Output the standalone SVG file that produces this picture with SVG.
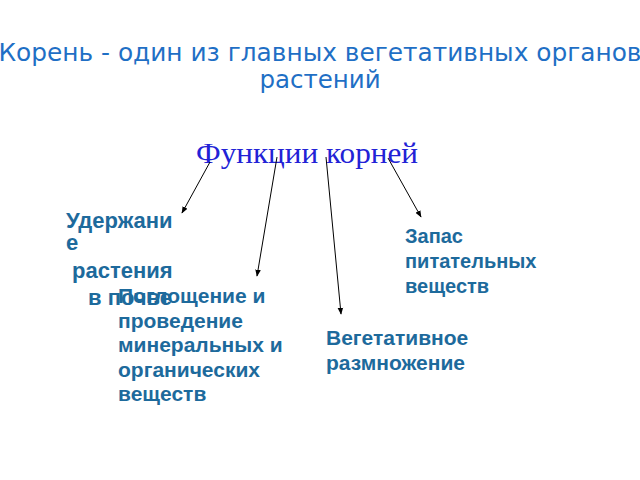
<svg xmlns="http://www.w3.org/2000/svg" width="640" height="480" viewBox="0 0 640 480">
<defs>
<marker id="ah" viewBox="0 0 10 10" refX="9" refY="5" markerWidth="7" markerHeight="7" orient="auto" markerUnits="userSpaceOnUse">
<path d="M0,1 L10,5 L0,9 z" fill="#000"/>
</marker>
<style>
.title{font-family:"DejaVu Sans",sans-serif;font-size:24.5px;fill:#1f6fc5;text-anchor:middle}
.head{font-family:"Liberation Serif",serif;font-size:29px;fill:#2222d6;text-anchor:middle}
.lbl{font-family:"Liberation Sans",Arial,sans-serif;font-weight:bold;fill:#1d6a9c}
.s22{font-size:22px}
.s21{font-size:21px}
.s20{font-size:20px}
.con{stroke:#000;stroke-width:1;fill:none;marker-end:url(#ah)}
</style>
</defs>
<rect width="640" height="480" fill="#fff"/>
<g id="title">
<text class="title" x="320" y="61" textLength="643" lengthAdjust="spacingAndGlyphs">Корень - один из главных вегетативных органов</text>
<text class="title" x="320" y="88">растений</text>
</g>
<g id="root">
<text class="head" x="307" y="163" textLength="222" lengthAdjust="spacingAndGlyphs">Функции корней</text>
</g>
<g id="connectors">
<line class="con" x1="210" y1="162" x2="182" y2="213"/>
<line class="con" x1="277" y1="157" x2="257" y2="276"/>
<line class="con" x1="326" y1="157" x2="341" y2="314"/>
<line class="con" x1="388" y1="158" x2="421" y2="217"/>
</g>
<g id="n1" class="lbl s22">
<text x="66" y="228">Удержани</text>
<text x="66" y="250">е</text>
<text x="72" y="278">растения</text>
<text x="88" y="305">в почве</text>
</g>
<g id="n2" class="lbl s21">
<text x="118" y="303">Поглощение и</text>
<text x="118" y="328">проведение</text>
<text x="118" y="352">минеральных и</text>
<text x="118" y="377">органических</text>
<text x="118" y="401">веществ</text>
</g>
<g id="n3" class="lbl s21">
<text x="326" y="345">Вегетативное</text>
<text x="326" y="370">размножение</text>
</g>
<g id="n4" class="lbl s20">
<text x="405" y="243">Запас</text>
<text x="405" y="268">питательных</text>
<text x="405" y="293">веществ</text>
</g>
</svg>
